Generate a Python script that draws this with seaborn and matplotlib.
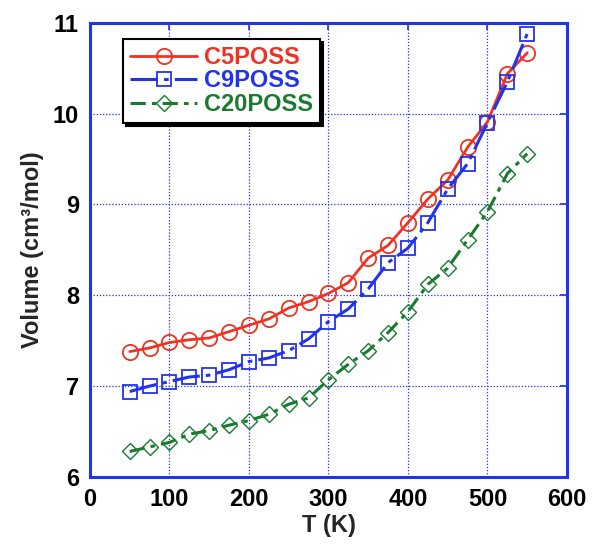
import numpy as np
import pandas as pd
import matplotlib
matplotlib.use("Agg")
import matplotlib.pyplot as plt
import seaborn as sns

T = [50, 75, 100, 125, 150, 175, 200, 225, 250, 275, 300,
     325, 350, 375, 400, 425, 450, 475, 500, 525, 550]
c5poss = [7.38, 7.42, 7.48, 7.51, 7.53, 7.60, 7.67, 7.74, 7.86, 7.93, 8.02,
          8.14, 8.41, 8.55, 8.80, 9.06, 9.27, 9.63, 9.91, 10.44, 10.67]
c9poss = [6.94, 7.00, 7.05, 7.10, 7.12, 7.18, 7.27, 7.31, 7.39, 7.52, 7.71,
          7.85, 8.07, 8.36, 8.52, 8.80, 9.17, 9.45, 9.90, 10.35, 10.88]
c20poss = [6.28, 6.33, 6.38, 6.47, 6.51, 6.57, 6.62, 6.69, 6.80, 6.87, 7.07,
           7.24, 7.39, 7.59, 7.82, 8.12, 8.30, 8.61, 8.92, 9.34, 9.56]
series_names = ["C5POSS", "C9POSS", "C20POSS"]
xticks = [0, 100, 200, 300, 400, 500, 600]
yticks = [6, 7, 8, 9, 10, 11]

sns.set_style("white")
plt.rcParams['font.family'] = ['Liberation Sans', 'DejaVu Sans']

colors = {"C5POSS": "#ee3322", "C9POSS": "#2233ee", "C20POSS": "#1a7a30"}
markers = {"C5POSS": "o", "C9POSS": "s", "C20POSS": "D"}
msizes = {"C5POSS": 11, "C9POSS": 10, "C20POSS": 8.5}
dashes = {"C5POSS": None, "C9POSS": (9, 2, 1.5, 2), "C20POSS": (5, 2, 1.5, 2)}
lws = {"C5POSS": 2.0, "C9POSS": 2.2, "C20POSS": 2.2}
mews = {"C5POSS": 1.3, "C9POSS": 1.3, "C20POSS": 1.0}

fig = plt.figure(figsize=(5.94, 5.45), dpi=100)
ax = fig.add_axes([0.1515, 0.125, 0.8030, 0.833])

data = {"C5POSS": c5poss, "C9POSS": c9poss, "C20POSS": c20poss}
for name in series_names:
    df = pd.DataFrame({"T": T, "V": data[name]})
    sns.lineplot(data=df, x="T", y="V", ax=ax, color=colors[name],
                 marker=markers[name], markersize=msizes[name],
                 markerfacecolor="none", markeredgecolor=colors[name],
                 markeredgewidth=mews[name], linewidth=lws[name],
                 label=name, legend=False)
    line = ax.lines[-1]
    if dashes[name] is not None:
        line.set_dashes(dashes[name])

ax.set_xlim(0, 600)
ax.set_ylim(6, 11)
ax.set_xticks(xticks)
ax.set_yticks(yticks)
ax.set_xticklabels([str(v) for v in xticks], fontsize=17, fontweight="bold")
ax.set_yticklabels([str(v) for v in yticks], fontsize=17, fontweight="bold")
ax.set_xlabel("T (K)", fontsize=17, fontweight="bold", labelpad=2)
ax.set_ylabel("Volume (cm³/mol)", fontsize=17, fontweight="bold", labelpad=6)

ax.grid(True, color="#2233ee", linestyle=(0, (1, 1.5)), linewidth=0.9)
for sp in ax.spines.values():
    sp.set_color("#2233ee")
    sp.set_linewidth(2.2)
ax.tick_params(direction="in", top=True, right=True, color="#2233ee",
               length=5, width=1.2, labelcolor="black", pad=8)

handles = ax.lines[:3]
leg = ax.legend(handles, series_names, loc="upper left",
                bbox_to_anchor=(0.07, 0.965),
                prop={"weight": "bold", "size": 17},
                frameon=True, fancybox=False, edgecolor="black",
                shadow={"facecolor": "black", "alpha": 1.0, "edgecolor": "black"},
                handlelength=2.8, handletextpad=0.3, borderpad=0.3,
                labelspacing=0.02, borderaxespad=0)
leg.get_frame().set_linewidth(1.5)
leg.get_frame().set_alpha(1)
for txt, name in zip(leg.get_texts(), series_names):
    txt.set_color(colors[name])

fig.savefig("out.png", dpi=100)
